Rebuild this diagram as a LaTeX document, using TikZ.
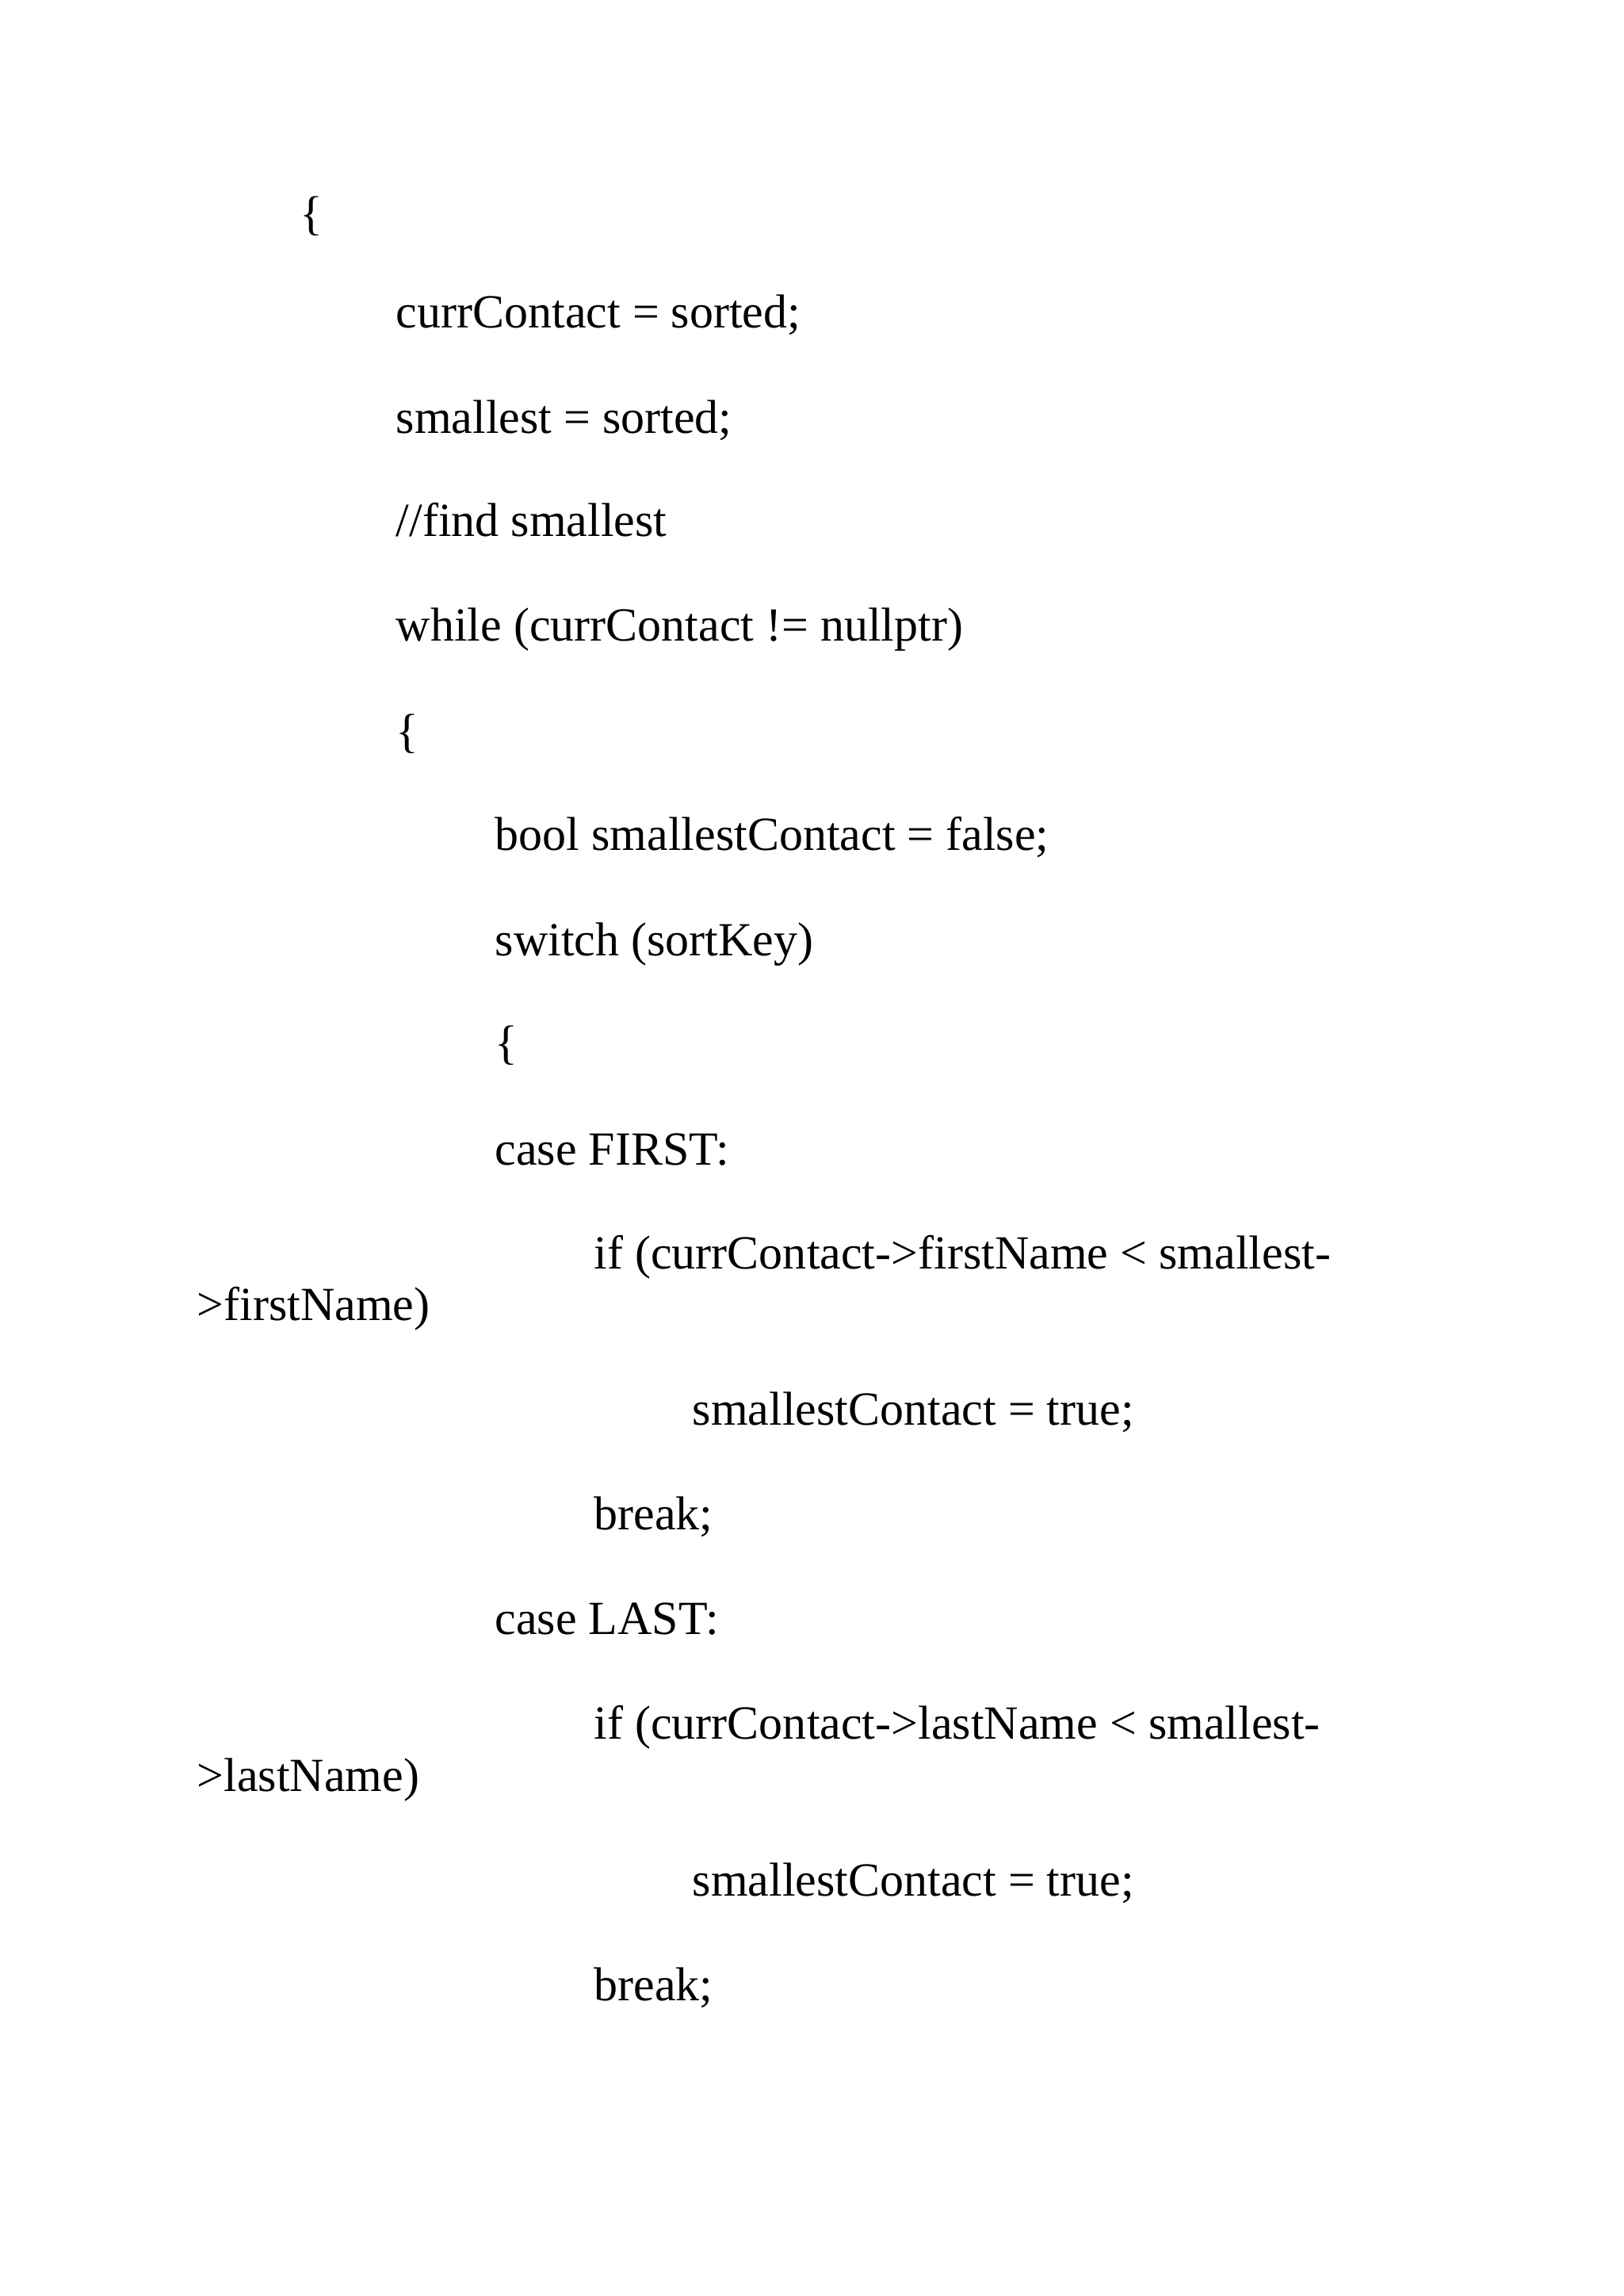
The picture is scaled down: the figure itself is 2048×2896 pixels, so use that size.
\documentclass[tikz,border=0pt]{standalone}
\usepackage{fontspec}
\setmainfont{Liberation Serif}
\begin{document}
\begin{tikzpicture}[x=0.1025mm,y=-0.1025mm,
  ln/.style={anchor=base west,inner sep=0pt,font=\fontsize{17.5}{20}\selectfont}]
\useasboundingbox[fill=white] (0,0) rectangle (2048,2896);
\node[ln] (l1) at (378,289) {\{};
\node[ln] (l2) at (499,413) {currContact = sorted;};
\node[ln] (l3) at (499,546) {smallest = sorted;};
\node[ln] (l4) at (499,676) {//find smallest};
\node[ln] (l5) at (499,808) {while (currContact != nullptr)};
\node[ln] (l6) at (499,942) {\{};
\node[ln] (l7) at (624,1072) {bool smallestContact = false;};
\node[ln] (l8) at (624,1205) {switch (sortKey)};
\node[ln] (l9) at (624,1335) {\{};
\node[ln] (l10) at (624,1469) {case FIRST:};
\node[ln] (l11) at (749,1600) {if (currContact->firstName < smallest-};
\node[ln] (l12) at (248,1665) {>firstName)};
\node[ln] (l13) at (873,1797) {smallestContact = true;};
\node[ln] (l14) at (749,1929) {break;};
\node[ln] (l15) at (624,2061) {case LAST:};
\node[ln] (l16) at (749,2193) {if (currContact->lastName < smallest-};
\node[ln] (l17) at (248,2259) {>lastName)};
\node[ln] (l18) at (873,2391) {smallestContact = true;};
\node[ln] (l19) at (749,2523) {break;};
\end{tikzpicture}
\end{document}
